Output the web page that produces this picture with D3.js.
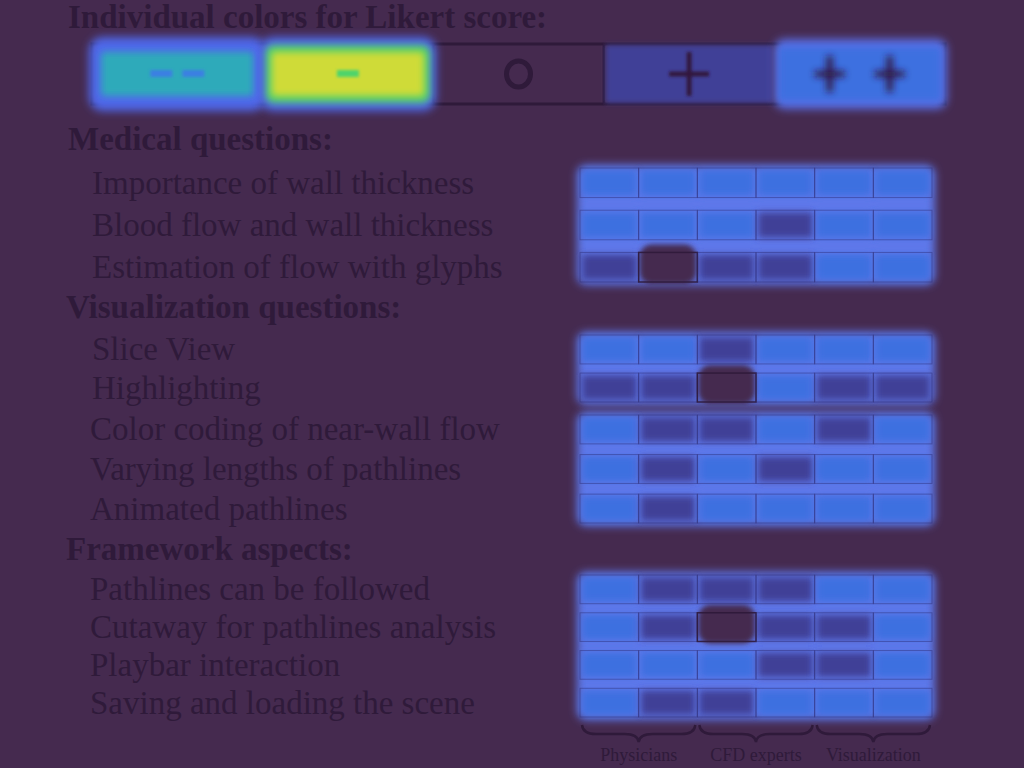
<!DOCTYPE html>
<html><head><meta charset="utf-8">
<script src="https://cdn.jsdelivr.net/npm/d3@7"></script>
<style>html,body{margin:0;padding:0;background:#452a4f;} svg{display:block}</style>
</head><body>
<svg id="chart" width="1024" height="768"></svg>
<script>
// ---------- DATA ----------
const likertValues = [-2, -1, 0, 1, 2];
const likertSymbols = ["--", "-", "o", "+", "++"];
const respondents = ["P1", "P2", "C1", "C2", "V1", "V2"];
const respondentGroups = ["Physicians", "CFD experts", "Visualization"];

const legendTitle = "Individual colors for Likert score:";
const medicalTitle = "Medical questions:";
const visTitle = "Visualization questions:";
const frameworkTitle = "Framework aspects:";

const medicalQuestions = ["Importance of wall thickness", "Blood flow and wall thickness", "Estimation of flow with glyphs"];
const medicalScores = [
  [2, 2, 2, 2, 2, 2],
  [2, 2, 2, 1, 2, 2],
  [1, 0, 1, 1, 2, 2]
];
const visQuestionsA = ["Slice View", "Highlighting"];
const visScoresA = [
  [2, 2, 1, 2, 2, 2],
  [1, 1, 0, 2, 1, 1]
];
const visQuestionsB = ["Color coding of near-wall flow", "Varying lengths of pathlines", "Animated pathlines"];
const visScoresB = [
  [2, 1, 1, 2, 1, 2],
  [2, 1, 2, 1, 2, 2],
  [2, 1, 2, 2, 2, 2]
];
const frameworkQuestions = ["Pathlines can be followed", "Cutaway for pathlines analysis", "Playbar interaction", "Saving and loading the scene"];
const frameworkScores = [
  [2, 1, 1, 1, 2, 2],
  [2, 1, 0, 1, 1, 2],
  [2, 2, 2, 1, 1, 2],
  [2, 1, 1, 2, 2, 2]
];

// ---------- STYLE / LAYOUT ----------
const BG = "#452a4f";
const INK = "#2f1a3a";
const SERIF = "'Liberation Serif','Times New Roman',serif";
const color = d3.scaleOrdinal().domain(likertValues)
  .range(["#2eaaba", "#cfdb38", BG, "#3f3f97", "#3c6fe0"]);

const svg = d3.select("#chart");
svg.append("rect").attr("width", 1024).attr("height", 768).attr("fill", BG);

const defs = svg.append("defs");
function blurFilter(id, sd) {
  defs.append("filter").attr("id", id)
    .attr("x", "-50%").attr("y", "-50%").attr("width", "200%").attr("height", "200%")
    .append("feGaussianBlur").attr("stdDeviation", sd);
}
blurFilter("b1", 1.5);
blurFilter("b2", 2.5);
blurFilter("b3", 3.5);
blurFilter("b4", 4.5);
blurFilter("b6", 6);

// headers
const headers = [
  {t: legendTitle, x: 68, y: 28},
  {t: medicalTitle, x: 68, y: 150},
  {t: visTitle, x: 66, y: 318},
  {t: frameworkTitle, x: 66, y: 560}
];
svg.selectAll("text.hdr").data(headers).join("text").attr("class", "hdr")
  .attr("x", d => d.x).attr("y", d => d.y)
  .attr("font-family", SERIF).attr("font-weight", "bold").attr("font-size", 33)
  .attr("fill", INK).text(d => d.t);

// ---------- LEGEND ----------
const lx = d3.scaleBand().domain(likertValues).range([92, 945]);
const lTop = 44, lBot = 104, lMid = (lTop + lBot) / 2;
const lg = svg.append("g");
lg.append("rect").attr("x", lx.range()[0]).attr("y", lTop)
  .attr("width", lx.range()[1] - lx.range()[0]).attr("height", lBot - lTop)
  .attr("fill", "none").attr("stroke", INK).attr("stroke-width", 3);
lg.selectAll("line.div").data([0, 1]).join("line").attr("class", "div")
  .attr("x1", d => lx(d)).attr("x2", d => lx(d)).attr("y1", lTop).attr("y2", lBot)
  .attr("stroke", INK).attr("stroke-width", 2.5);

likertValues.forEach((v, i) => {
  const x0 = lx(v), w = lx.bandwidth();
  if (v === -2 || v === -1) {
    lg.append("rect").attr("x", x0 - 3).attr("y", lTop - 7).attr("width", w + 6).attr("height", lBot - lTop + 14)
      .attr("rx", 14).attr("fill", "#5068ea").attr("filter", "url(#b4)");
    if (v === -1) {
      lg.append("rect").attr("x", x0 + 3).attr("y", lTop + 1).attr("width", w - 6).attr("height", lBot - lTop - 2)
        .attr("rx", 8).attr("fill", "#4fcf6c").attr("filter", "url(#b3)");
    }
    lg.append("rect").attr("x", x0 + 9).attr("y", lTop + 8).attr("width", w - 18).attr("height", lBot - lTop - 16)
      .attr("rx", 4).attr("fill", color(v)).attr("filter", "url(#b3)");
  } else if (v === 1) {
    lg.append("rect").attr("x", x0 + 2).attr("y", lTop + 1).attr("width", w - 4).attr("height", lBot - lTop - 2)
      .attr("fill", color(v)).attr("filter", "url(#b2)");
  } else if (v === 2) {
    lg.append("rect").attr("x", x0).attr("y", lTop - 5).attr("width", w + 2).attr("height", lBot - lTop + 10)
      .attr("rx", 10).attr("fill", "#5a6ee6").attr("filter", "url(#b4)");
    lg.append("rect").attr("x", x0 + 4).attr("y", lTop + 3).attr("width", w - 8).attr("height", lBot - lTop - 6)
      .attr("fill", color(v)).attr("filter", "url(#b3)");
  }
  const cx = x0 + w / 2;
  const sym = likertSymbols[i];
  const sg = lg.append("g");
  if (sym === "--") {
    [-1, 1].forEach(s => sg.append("rect").attr("x", cx - 11 + s * 16).attr("y", lMid - 4).attr("width", 22).attr("height", 7)
      .attr("fill", "#3a80e2").attr("filter", "url(#b1)"));
  } else if (sym === "-") {
    sg.append("rect").attr("x", cx - 11).attr("y", lMid - 4).attr("width", 22).attr("height", 7)
      .attr("fill", "#4fd46a").attr("filter", "url(#b1)");
  } else if (sym === "o") {
    sg.append("ellipse").attr("cx", cx).attr("cy", lMid).attr("rx", 12).attr("ry", 13)
      .attr("fill", "none").attr("stroke", INK).attr("stroke-width", 5);
  } else if (sym === "+") {
    sg.append("path").attr("d", `M${cx - 20},${lMid}H${cx + 20}M${cx},${lMid - 22}V${lMid + 22}`)
      .attr("stroke", "#30183c").attr("stroke-width", 5).attr("fill", "none").attr("filter", "url(#b1)");
  } else if (sym === "++") {
    [-30, 30].forEach(o => sg.append("path")
      .attr("d", `M${cx + o - 15},${lMid}H${cx + o + 15}M${cx + o},${lMid - 18}V${lMid + 18}`)
      .attr("stroke", "#30183c").attr("stroke-width", 6).attr("fill", "none").attr("filter", "url(#b3)"));
  }
});

// ---------- HEATMAP ----------
const x = d3.scaleBand().domain(respondents).range([580, 932]);
const groups = [
  {q: medicalQuestions, s: medicalScores, y0: 168, y1: 282, pad: 0.3, lx: 92},
  {q: visQuestionsA, s: visScoresA, y0: 335, y1: 402, pad: 0.24, lx: 92},
  {q: visQuestionsB, s: visScoresB, y0: 415, y1: 523, pad: 0.27, lx: 90},
  {q: frameworkQuestions, s: frameworkScores, y0: 575, y1: 717, pad: 0.24, lx: 90}
];

groups.forEach(g => {
  const y = d3.scaleBand().domain(g.q).range([g.y0, g.y1]).paddingInner(g.pad);
  const gg = svg.append("g");
  const cells = [];
  g.q.forEach((q, r) => g.s[r].forEach((v, c) => cells.push({q, r, c, v, resp: respondents[c]})));

  // halo
  gg.append("rect").attr("x", x.range()[0] - 3).attr("y", g.y0 - 3)
    .attr("width", x.range()[1] - x.range()[0] + 6).attr("height", g.y1 - g.y0 + 6)
    .attr("rx", 9).attr("fill", "#5f78ea").attr("filter", "url(#b4)");
  // colored cells
  gg.selectAll("rect.cell").data(cells.filter(d => d.v !== 0)).join("rect").attr("class", "cell")
    .attr("x", d => x(d.resp) + 2).attr("y", d => y(d.q) + 2)
    .attr("width", x.bandwidth() - 4).attr("height", y.bandwidth() - 4)
    .attr("fill", d => color(d.v)).attr("filter", "url(#b3)");
  // neutral cells
  gg.selectAll("rect.zero").data(cells.filter(d => d.v === 0)).join("rect").attr("class", "zero")
    .attr("x", d => x(d.resp) + 1).attr("y", d => y(d.q) - 8)
    .attr("width", x.bandwidth() - 2).attr("height", y.bandwidth() + 10)
    .attr("rx", 12).attr("fill", BG).attr("filter", "url(#b2)");
  // outlines
  gg.selectAll("rect.out").data(cells).join("rect").attr("class", "out")
    .attr("x", d => x(d.resp)).attr("y", d => y(d.q))
    .attr("width", x.bandwidth()).attr("height", y.bandwidth())
    .attr("fill", "none")
    .attr("stroke", d => d.v === 0 ? INK : "#2c2b72")
    .attr("stroke-opacity", d => d.v === 0 ? 0.9 : 0.45)
    .attr("stroke-width", d => d.v === 0 ? 1.5 : 1);

  // labels
  svg.selectAll(null).data(g.q).join("text")
    .attr("x", g.lx).attr("y", d => y(d) + y.bandwidth() / 2 + 11)
    .attr("font-family", SERIF).attr("font-size", 33).attr("fill", INK).text(d => d);
});

// ---------- BRACES ----------
const groupCols = [[0, 1], [2, 3], [4, 5]];
const bTop = 725;
function brace(x0, x1) {
  const m = (x0 + x1) / 2;
  return `M${x0},${bTop} Q${x0 + 1},${bTop + 9} ${x0 + 14},${bTop + 9} L${m - 14},${bTop + 9} Q${m - 1},${bTop + 9} ${m},${bTop + 17}` +
         ` Q${m + 1},${bTop + 9} ${m + 14},${bTop + 9} L${x1 - 14},${bTop + 9} Q${x1 - 1},${bTop + 9} ${x1},${bTop}`;
}
svg.selectAll("path.brace").data(respondentGroups).join("path").attr("class", "brace")
  .attr("d", (d, i) => brace(x(respondents[groupCols[i][0]]) + 2, x(respondents[groupCols[i][1]]) + x.bandwidth() - 2))
  .attr("fill", "none").attr("stroke", INK).attr("stroke-width", 2.4);
svg.selectAll("text.bl").data(respondentGroups).join("text").attr("class", "bl")
  .attr("x", (d, i) => x(respondents[groupCols[i][0]]) + x.bandwidth())
  .attr("y", 761).attr("text-anchor", "middle")
  .attr("font-family", SERIF).attr("font-size", 18).attr("fill", INK).text(d => d);
</script></body></html>
